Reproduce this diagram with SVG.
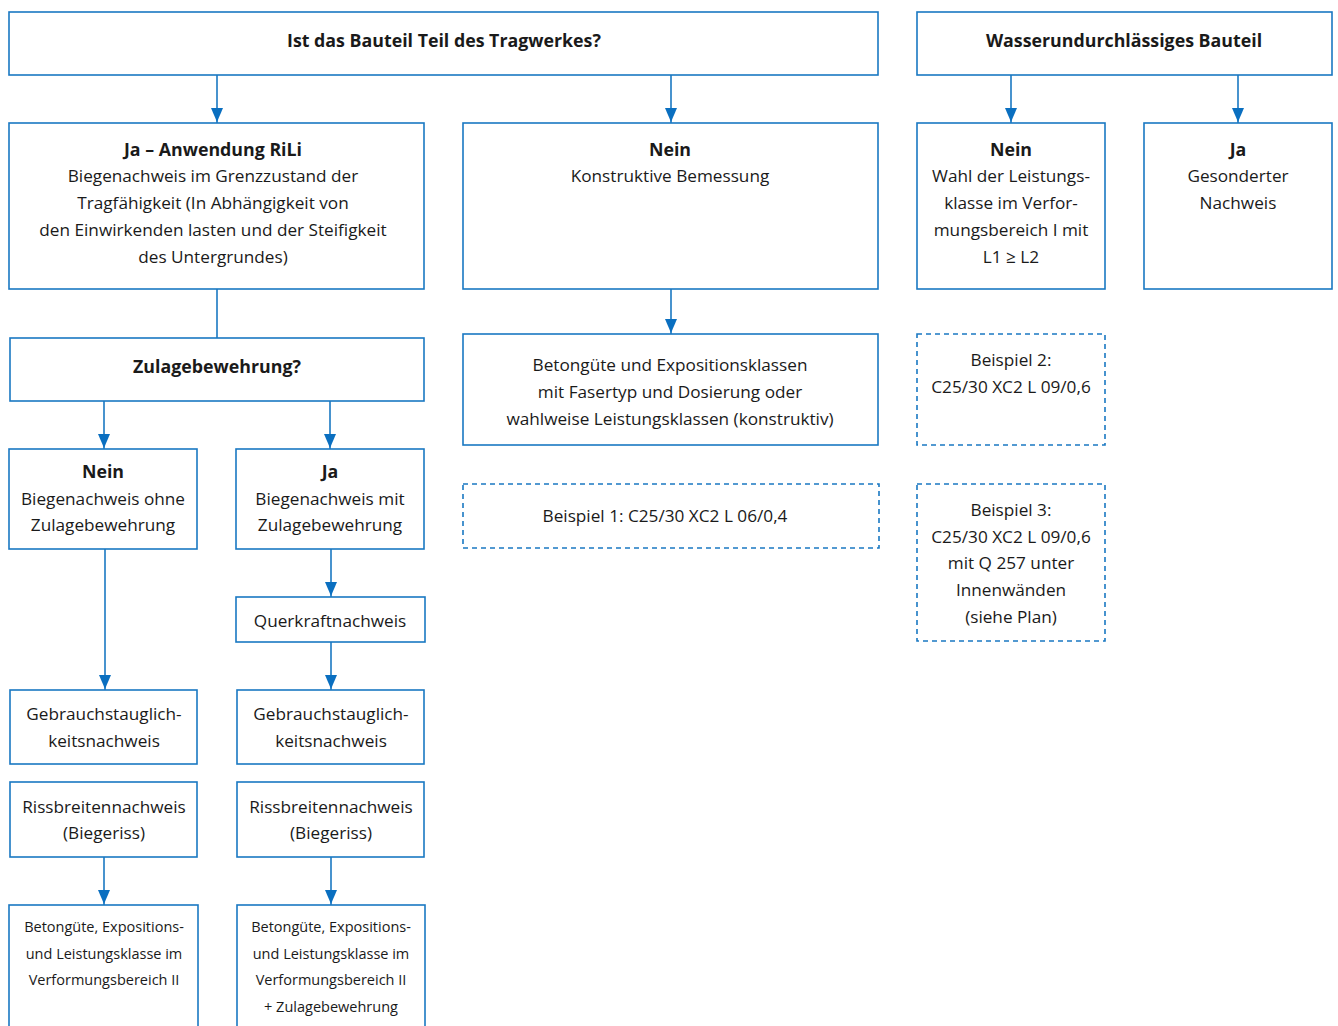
<svg xmlns="http://www.w3.org/2000/svg" width="1338" height="1026" viewBox="0 0 1338 1026">
<defs>
<style>
.b{fill:#fff;stroke:#1a78c2;stroke-width:1.6}
.d{fill:#fff;stroke:#1a78c2;stroke-width:1.6;stroke-dasharray:5 4}
text{font-family:"Open Sans","Noto Sans","Liberation Sans",sans-serif;font-size:17.2px;fill:#1a1a1a;text-anchor:middle}
.t{font-weight:bold;font-size:17.8px}
.s{font-size:14.5px}
.c{fill:none;stroke:#1a78c2;stroke-width:1.6}
</style>
</defs>
<g id="connectors">
<line class="c" x1="217" y1="75" x2="217" y2="123"/>
<line class="c" x1="671" y1="75" x2="671" y2="123"/>
<line class="c" x1="1011" y1="75" x2="1011" y2="123"/>
<line class="c" x1="1238" y1="75" x2="1238" y2="123"/>
<line class="c" x1="217" y1="289" x2="217" y2="338"/>
<line class="c" x1="671" y1="289" x2="671" y2="334"/>
<line class="c" x1="104" y1="401" x2="104" y2="449"/>
<line class="c" x1="330" y1="401" x2="330" y2="449"/>
<line class="c" x1="105" y1="549" x2="105" y2="690"/>
<line class="c" x1="331" y1="549" x2="331" y2="597"/>
<line class="c" x1="331" y1="642" x2="331" y2="690"/>
<line class="c" x1="104" y1="857" x2="104" y2="905"/>
<line class="c" x1="331" y1="857" x2="331" y2="905"/>
<g fill="#0a6fc0">
<path d="M211,108 L223,108 L217,122 Z"/>
<path d="M665,108 L677,108 L671,122 Z"/>
<path d="M1005,108 L1017,108 L1011,122 Z"/>
<path d="M1232,108 L1244,108 L1238,122 Z"/>
<path d="M665,319 L677,319 L671,333 Z"/>
<path d="M98,434 L110,434 L104,448 Z"/>
<path d="M324,434 L336,434 L330,448 Z"/>
<path d="M99,675 L111,675 L105,689 Z"/>
<path d="M325,582 L337,582 L331,596 Z"/>
<path d="M325,675 L337,675 L331,689 Z"/>
<path d="M98,890 L110,890 L104,904 Z"/>
<path d="M325,890 L337,890 L331,904 Z"/>
</g>
</g>
<g id="n-tragwerk"><rect class="b" x="9" y="12" width="869" height="63"/><text class="t" x="444" y="47">Ist das Bauteil Teil des Tragwerkes?</text></g>
<g id="n-wasser"><rect class="b" x="917" y="12" width="415" height="63"/><text class="t" x="1124" y="47">Wasserundurchlässiges Bauteil</text></g>
<g id="n-ja-rili"><rect class="b" x="9" y="123" width="415" height="166"/>
<text class="t" x="213" y="156">Ja – Anwendung RiLi</text>
<text x="213" y="182">Biegenachweis im Grenzzustand der</text>
<text x="213" y="209">Tragfähigkeit (In Abhängigkeit von</text>
<text x="213" y="236">den Einwirkenden lasten und der Steifigkeit</text>
<text x="213" y="263">des Untergrundes)</text></g>
<g id="n-nein-konstr"><rect class="b" x="463" y="123" width="415" height="166"/>
<text class="t" x="670" y="156">Nein</text>
<text x="670" y="182">Konstruktive Bemessung</text></g>
<g id="n-nein-wasser"><rect class="b" x="917" y="123" width="188" height="166"/>
<text class="t" x="1011" y="156">Nein</text>
<text x="1011" y="182">Wahl der Leistungs-</text>
<text x="1011" y="209">klasse im Verfor-</text>
<text x="1011" y="236">mungsbereich I mit</text>
<text x="1011" y="263">L1 ≥ L2</text></g>
<g id="n-ja-wasser"><rect class="b" x="1144" y="123" width="188" height="166"/>
<text class="t" x="1238" y="156">Ja</text>
<text x="1238" y="182">Gesonderter</text>
<text x="1238" y="209">Nachweis</text></g>
<g id="n-zulage"><rect class="b" x="10" y="338" width="414" height="63"/><text class="t" x="217" y="373">Zulagebewehrung?</text></g>
<g id="n-nein-zulage"><rect class="b" x="9" y="449" width="188" height="100"/>
<text class="t" x="103" y="478">Nein</text>
<text x="103" y="505">Biegenachweis ohne</text>
<text x="103" y="531">Zulagebewehrung</text></g>
<g id="n-ja-zulage"><rect class="b" x="236" y="449" width="188" height="100"/>
<text class="t" x="330" y="478">Ja</text>
<text x="330" y="505">Biegenachweis mit</text>
<text x="330" y="531">Zulagebewehrung</text></g>
<g id="n-querkraft"><rect class="b" x="236" y="597" width="189" height="45"/><text x="330" y="627">Querkraftnachweis</text></g>
<g id="n-gebrauch-l"><rect class="b" x="10" y="690" width="187" height="74"/>
<text x="104" y="720">Gebrauchstauglich-</text><text x="104" y="747">keitsnachweis</text></g>
<g id="n-gebrauch-r"><rect class="b" x="237" y="690" width="187" height="74"/>
<text x="331" y="720">Gebrauchstauglich-</text><text x="331" y="747">keitsnachweis</text></g>
<g id="n-riss-l"><rect class="b" x="10" y="782" width="187" height="75"/>
<text x="104" y="813">Rissbreitennachweis</text><text x="104" y="839">(Biegeriss)</text></g>
<g id="n-riss-r"><rect class="b" x="237" y="782" width="187" height="75"/>
<text x="331" y="813">Rissbreitennachweis</text><text x="331" y="839">(Biegeriss)</text></g>
<g id="n-beton-l"><rect class="b" x="9" y="905" width="189" height="130"/>
<text class="s" x="104" y="932">Betongüte, Expositions-</text>
<text class="s" x="104" y="959">und Leistungsklasse im</text>
<text class="s" x="104" y="985">Verformungsbereich II</text></g>
<g id="n-beton-r"><rect class="b" x="237" y="905" width="188" height="130"/>
<text class="s" x="331" y="932">Betongüte, Expositions-</text>
<text class="s" x="331" y="959">und Leistungsklasse im</text>
<text class="s" x="331" y="985">Verformungsbereich II</text>
<text class="s" x="331" y="1012">+ Zulagebewehrung</text></g>
<g id="n-beton-mitte"><rect class="b" x="463" y="334" width="415" height="111"/>
<text x="670" y="371">Betongüte und Expositionsklassen</text>
<text x="670" y="398">mit Fasertyp und Dosierung oder</text>
<text x="670" y="425">wahlweise Leistungsklassen (konstruktiv)</text></g>
<g id="n-beispiel1"><rect class="d" x="463" y="484" width="416" height="64"/>
<text x="665" y="522">Beispiel 1: C25/30 XC2 L 06/0,4</text></g>
<g id="n-beispiel2"><rect class="d" x="917" y="334" width="188" height="111"/>
<text x="1011" y="366">Beispiel 2:</text>
<text x="1011" y="393">C25/30 XC2 L 09/0,6</text></g>
<g id="n-beispiel3"><rect class="d" x="917" y="484" width="188" height="157"/>
<text x="1011" y="516">Beispiel 3:</text>
<text x="1011" y="543">C25/30 XC2 L 09/0,6</text>
<text x="1011" y="569">mit Q 257 unter</text>
<text x="1011" y="596">Innenwänden</text>
<text x="1011" y="623">(siehe Plan)</text></g>
</svg>
